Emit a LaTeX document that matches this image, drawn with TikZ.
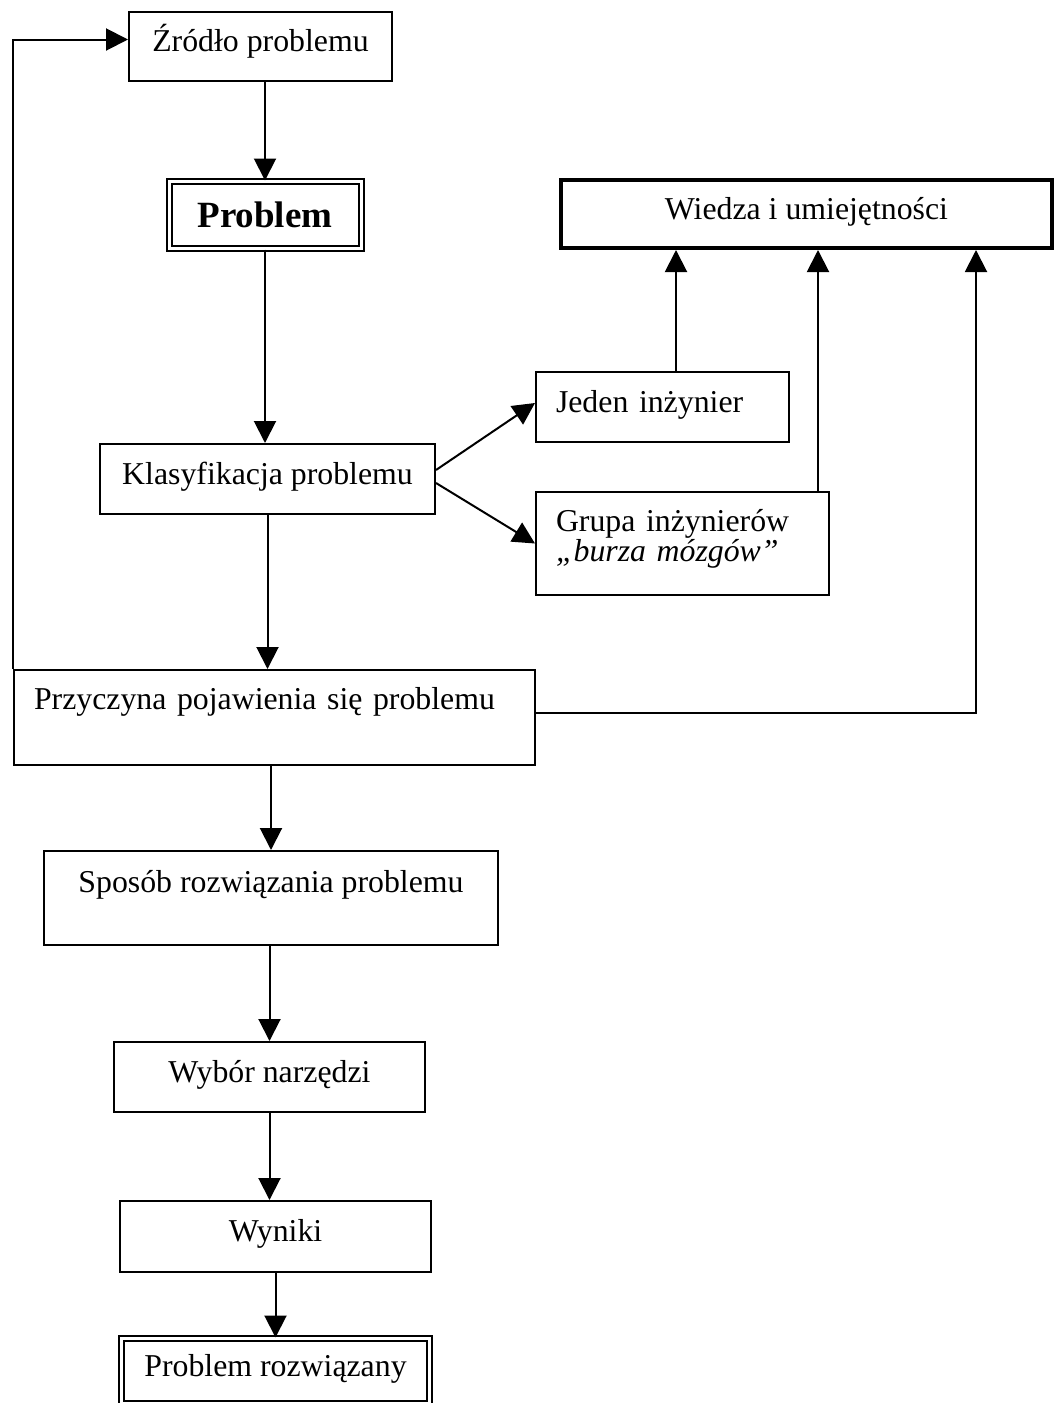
\documentclass[tikz,border=0pt]{standalone}
\usepackage{fontspec}
\setmainfont{Liberation Serif}
\usepackage{tikz}
\usetikzlibrary{arrows.meta}

\begin{document}
\begin{tikzpicture}[x=0.5pt, y=-0.5pt,
        box/.style={draw, line width=1pt, inner sep=0pt, font=\fontsize{15.9pt}{15pt}\selectfont},
        lift/.style={text height=11pt, text depth=#1}, lift/.default=6pt,
        dblbox/.style={box, double, line width=1pt, double distance=1.5pt},
        thickbox/.style={box, line width=2pt},
        leftbox/.style={box, align=left, inner xsep=10pt, text width=#1},
        arr/.style={-{Triangle[length=11pt,width=11pt]}, line width=1pt}]

    \useasboundingbox (0,0) rectangle (1056,1403);

    \node[box, lift, minimum width=131.5pt, minimum height=34.5pt] (zrodlo) at (260.5,46.5) {Źródło problemu};
    \node[dblbox, minimum width=96pt, minimum height=33.5pt, font=\fontsize{18.5pt}{20pt}\selectfont\bfseries] (problem) at (265,215) {Problem};
    \node[thickbox, lift, minimum width=245.5pt, minimum height=34pt] (wiedza) at (806.5,214) {Wiedza i umiejętności};
    \node[leftbox=106.5pt, lift, minimum height=35pt] (jeden) at (662.5,407) {Jeden inżynier};
    \node[box, lift, minimum width=167.5pt, minimum height=35pt] (klas) at (267.5,479) {Klasyfikacja problemu};
    \node[leftbox=126.5pt, minimum height=51.5pt] (grupa) at (682.5,543.5) {Grupa inżynierów\\\textit{„burza mózgów”}\rule[-8.5pt]{0pt}{0pt}};
    \node[leftbox=240.5pt, lift=19.5pt, minimum height=47.5pt] (przyczyna) at (274.5,717.5) {Przyczyna pojawienia się problemu};
    \node[box, lift=17pt, minimum width=227pt, minimum height=47pt] (sposob) at (271,898) {Sposób rozwiązania problemu};
    \node[box, lift, minimum width=155.5pt, minimum height=35pt] (wybor) at (269.5,1077) {Wybór narzędzi};
    \node[box, lift, minimum width=155.5pt, minimum height=35.5pt] (wyniki) at (275.5,1236.5) {Wyniki};
    \node[dblbox, lift, minimum width=154pt, minimum height=32.5pt] (rozw) at (275.5,1371) {Problem rozwiązany};

    % main flow
    \draw[arr] (zrodlo.south -| problem.north) -- (problem.north);
    \draw[arr] (problem.south) -- (problem.south |- klas.north);
    \draw[arr] (klas.south) -- (klas.south |- przyczyna.north);
    \draw[arr] (przyczyna.south -| sposob.north) -- (sposob.north);
    \draw[arr] (sposob.south -| wybor.north) -- (wybor.north);
    \draw[arr] (wybor.south) -- (wybor.south |- wyniki.north);
    \draw[arr] (wyniki.south) -- (wyniki.south |- rozw.north);

    % feedback loop
    \draw[arr] (przyczyna.north west) |- ([yshift=3.5pt]zrodlo.west);

    % engineers and knowledge
    \draw[arr] ([yshift=4.5pt]klas.east) -- ([yshift=2pt]jeden.west);
    \draw[arr] ([yshift=-2pt]klas.east) -- (grupa.west);
    \coordinate (j) at ([xshift=6.75pt]jeden.north);
    \draw[arr] (j) -- (j |- wiedza.south);
    \coordinate (g) at ([xshift=-6pt]grupa.north east);
    \draw[arr] (g) -- (g |- wiedza.south);
    \draw[arr] ([yshift=2.25pt]przyczyna.east) -| ([xshift=-39pt]wiedza.south east);
\end{tikzpicture}
\end{document}
